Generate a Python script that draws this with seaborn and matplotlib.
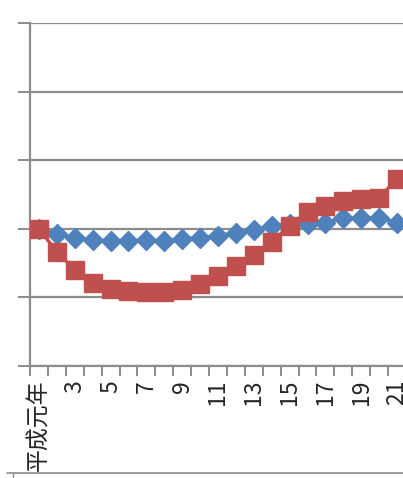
import numpy as np
import pandas as pd
import matplotlib
matplotlib.use("Agg")
import matplotlib.pyplot as plt
import seaborn as sns
from matplotlib.lines import Line2D

# 平成元年〜21年 (index, 平成元年 = 100)
years = ["平成元年"] + [str(i) for i in range(2, 22)]
series_a = [100.0, 98.5, 97.4, 96.8, 96.5, 96.5, 96.8, 96.5, 97.1, 97.4, 98.0,
            98.8, 99.7, 100.9, 101.5, 101.5, 101.7, 103.2, 103.2, 103.2, 101.7]
series_b = [100.0, 93.3, 88.0, 84.3, 82.5, 81.9, 81.6, 81.6, 82.2, 84.0, 86.3,
            89.2, 92.4, 96.2, 100.9, 105.0, 106.7, 108.2, 108.7, 109.0, 114.6]
y_ticks = [60, 80, 100, 120, 140, 160]

BLUE = "#4F81BD"
RED = "#C0504D"
GRID = "#8C8C8C"

sns.set_theme(style="white")
plt.rcParams["font.family"] = ["Noto Sans CJK JP", "DejaVu Sans"]

df = pd.DataFrame({
    "pos": np.arange(len(years)),
    "year": years,
    "a": series_a,
    "b": series_b,
})

W, H = 403, 478
fig = plt.figure(figsize=(W / 100, H / 100), dpi=100)
ax = fig.add_axes([30 / W, (H - 366) / H, 376 / W, 343 / H])

sns.lineplot(data=df, x="pos", y="a", ax=ax, color=BLUE, lw=2.5,
             marker="D", markersize=10.3, markeredgecolor=BLUE,
             markeredgewidth=1, zorder=3)
sns.lineplot(data=df, x="pos", y="b", ax=ax, color=RED, lw=2.5,
             marker="s", markersize=13.5, markeredgecolor=RED,
             markeredgewidth=1, zorder=4)

ax.set_xlim(-0.5, len(years) - 0.5)
ax.set_ylim(y_ticks[0], y_ticks[-1])
ax.set_yticks(y_ticks)
ax.set_yticklabels([])
ax.yaxis.grid(True, color=GRID, lw=1.6)
ax.xaxis.grid(False)
ax.set_xlabel("")
ax.set_ylabel("")

# category labels on every other year, boundary ticks between categories
ax.set_xticks(df["pos"][::2])
ax.set_xticklabels(df["year"][::2], rotation=90, fontsize=16.5,
                   ha="center", va="top")
ax.set_xticks(np.arange(len(years) + 1) - 0.5, minor=True)
ax.tick_params(axis="x", which="major", length=0, pad=10)
ax.tick_params(axis="x", which="minor", length=7, width=1.4,
               color=GRID, direction="out", bottom=True)
ax.tick_params(axis="y", which="major", length=9, width=1.4,
               color=GRID, direction="out", left=True)

for side in ["top", "right"]:
    ax.spines[side].set_visible(False)
for side in ["left", "bottom"]:
    ax.spines[side].set_color(GRID)
    ax.spines[side].set_linewidth(1.6)

# rule of the panel below
fig.add_artist(Line2D([7 / W, 1], [(H - 473) / H] * 2, color=GRID, lw=1.2))
fig.add_artist(Line2D([13 / W] * 2, [(H - 473) / H, 0], color=GRID, lw=1.0))

fig.savefig("out.png", dpi=100)
